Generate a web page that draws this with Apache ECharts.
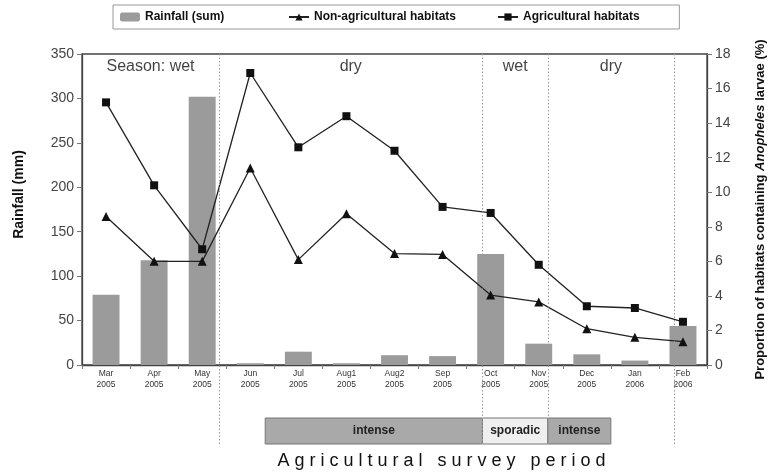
<!DOCTYPE html>
<html>
<head>
<meta charset="utf-8">
<script src="https://cdn.jsdelivr.net/npm/echarts@6/dist/echarts.min.js"></script>
<style>
  html, body { margin: 0; padding: 0; background: #fff; }
  #wrap { position: relative; width: 768px; height: 472px; }
  #chart { position: absolute; left: 0; top: 0; width: 768px; height: 472px; }
  #survey { position: absolute; left: 0; width: 888px; top: 450px; text-align: center;
            font-family: "Liberation Sans", Arial, sans-serif; font-size: 18px; color: #111;
            letter-spacing: 5px; white-space: nowrap; }
</style>
</head>
<body>
<div id="wrap">
  <div id="chart"></div>
  <div id="survey">Agricultural survey period</div>
</div>
<script>
// ---- data ----
const months = ['Mar\n2005','Apr\n2005','May\n2005','Jun\n2005','Jul\n2005','Aug1\n2005','Aug2\n2005','Sep\n2005','Oct\n2005','Nov\n2005','Dec\n2005','Jan\n2006','Feb\n2006'];
const rainfall = [79, 118, 302, 2, 15, 2, 11, 10, 125, 24, 12, 5, 44];
const nonAgricultural = [8.6, 6.0, 6.0, 11.4, 6.1, 8.75, 6.45, 6.4, 4.05, 3.65, 2.1, 1.6, 1.35];
const agricultural = [15.2, 10.4, 6.7, 16.9, 12.6, 14.4, 12.4, 9.15, 8.8, 5.8, 3.4, 3.3, 2.5];
const seasonNames = ['Season: wet', 'dry', 'wet', 'dry'];
const seasonBounds = [-0.5, 2.35, 7.83, 9.19, 11.81];   // in category units
const surveyPeriods = [
  { start: 3.31, end: 7.83, name: 'intense', color: '#a9a9a9' },
  { start: 7.83, end: 9.19, name: 'sporadic', color: '#efefef' },
  { start: 9.19, end: 10.5, name: 'intense', color: '#a9a9a9' }
];

const FONT = '"Liberation Sans", Arial, sans-serif';
const NARROW = '"Liberation Sans Narrow", "Arial Narrow", "Liberation Sans", Arial, sans-serif';

const seasonLabels = seasonNames.map((n, i) => ({
  value: [(seasonBounds[i] + seasonBounds[i + 1]) / 2, 14.5],
  name: n
}));

const legendText = { fontFamily: NARROW, fontWeight: 'bold', fontSize: 12, color: '#111' };
const legendCommon = { top: 11, padding: 0, itemWidth: 20, itemHeight: 9, textStyle: legendText };

const chart = echarts.init(document.getElementById('chart'), null, { renderer: 'canvas' });
chart.setOption({
  animation: false,
  backgroundColor: '#fff',
  legend: [
    Object.assign({}, legendCommon, {
      left: 113, top: 5, padding: [6, 455, 6, 7],
      borderColor: '#999', borderWidth: 1,
      data: ['Rainfall (sum)']
    }),
    Object.assign({}, legendCommon, { left: 288, data: ['Non-agricultural habitats'] }),
    Object.assign({}, legendCommon, { left: 497, data: ['Agricultural habitats'] })
  ],
  grid: [
    { left: 82, right: 61, top: 54, bottom: 107, show: true, borderColor: '#444', borderWidth: 1.3,
      backgroundColor: 'transparent', containLabel: false, outerBoundsMode: 'none' },
    { left: 82, right: 61, top: 54, bottom: 28, show: false, containLabel: false, outerBoundsMode: 'none' }
  ],
  xAxis: [
    {
      type: 'category', gridIndex: 0, data: months, boundaryGap: true,
      axisLine: { lineStyle: { color: '#444', width: 1.3 } },
      axisTick: { show: true, length: 4, lineStyle: { color: '#777' } },
      axisLabel: { fontFamily: FONT, fontSize: 8.5, color: '#333', lineHeight: 11, margin: 3, interval: 0 }
    },
    { type: 'value', gridIndex: 1, min: -0.5, max: 12.5, show: false }
  ],
  yAxis: [
    {
      type: 'value', gridIndex: 0, min: 0, max: 350, interval: 50,
      name: 'Rainfall (mm)', nameLocation: 'middle', nameGap: 56, nameRotate: 90,
      nameTextStyle: { fontFamily: FONT, fontWeight: 'bold', fontSize: 14, color: '#111', padding: [0, 0, 0, 30] },
      axisLine: { show: true, lineStyle: { color: '#444', width: 1.3 } },
      axisTick: { show: true, length: 5, lineStyle: { color: '#777' } },
      axisLabel: { fontFamily: FONT, fontSize: 14, color: '#444', margin: 8 },
      splitLine: { show: false }
    },
    {
      type: 'value', gridIndex: 0, min: 0, max: 18, interval: 2, position: 'right',
      name: 'Proportion of habitats containing {i|Anopheles} larvae (%)', nameLocation: 'middle', nameGap: 47, nameRotate: 90,
      nameTextStyle: {
        fontFamily: FONT, fontWeight: 'bold', fontSize: 13, color: '#111',
        rich: { i: { fontFamily: FONT, fontWeight: 'bold', fontStyle: 'italic', fontSize: 13, color: '#111' } }
      },
      axisLine: { show: true, lineStyle: { color: '#444', width: 1.3 } },
      axisTick: { show: true, length: 5, lineStyle: { color: '#777' } },
      axisLabel: { fontFamily: FONT, fontSize: 14, color: '#444', margin: 8 },
      splitLine: { show: false }
    },
    { type: 'value', gridIndex: 1, min: 0, max: 15, show: false }
  ],
  series: [
    {
      name: 'season-dividers', type: 'line', xAxisIndex: 1, yAxisIndex: 2, data: [], z: 1,
      silent: true,
      markLine: {
        silent: true, symbol: 'none', label: { show: false },
        lineStyle: { type: [1.5, 2], color: '#999', width: 1 },
        data: seasonBounds.slice(1).map(v => ({ xAxis: v }))
      }
    },
    {
      name: 'Rainfall (sum)', type: 'bar', xAxisIndex: 0, yAxisIndex: 0, data: rainfall,
      barWidth: '56%', itemStyle: { color: '#9b9b9b' }, z: 2
    },
    {
      name: 'Non-agricultural habitats', type: 'line', xAxisIndex: 0, yAxisIndex: 1, data: nonAgricultural,
      symbol: 'triangle', symbolSize: 9, itemStyle: { color: '#111' },
      lineStyle: { color: '#222', width: 1.3 }, z: 4
    },
    {
      name: 'Agricultural habitats', type: 'line', xAxisIndex: 0, yAxisIndex: 1, data: agricultural,
      symbol: 'rect', symbolSize: 8, itemStyle: { color: '#111' },
      lineStyle: { color: '#222', width: 1.3 }, z: 4
    },
    {
      name: 'season-labels', type: 'scatter', xAxisIndex: 1, yAxisIndex: 2, data: seasonLabels,
      symbolSize: 0, silent: true, z: 5,
      label: { show: true, position: 'inside', formatter: p => p.name, fontFamily: FONT, fontSize: 16, color: '#111' }
    },
    {
      name: 'survey', type: 'custom', xAxisIndex: 1, yAxisIndex: 2, silent: true, z: 3,
      data: surveyPeriods.map(p => [p.start, p.end]),
      renderItem: function (params, api) {
        const p = surveyPeriods[params.dataIndex];
        const a = api.coord([api.value(0), 1]);
        const b = api.coord([api.value(1), 0]);
        return {
          type: 'rect',
          shape: { x: a[0], y: a[1], width: b[0] - a[0], height: b[1] - a[1] },
          style: {
            fill: p.color, stroke: '#777', lineWidth: 1,
            text: p.name, textFill: '#222', fontFamily: FONT, fontWeight: 'bold', fontSize: 12, textPosition: 'inside'
          }
        };
      }
    }
  ]
});
</script>
</body>
</html>
